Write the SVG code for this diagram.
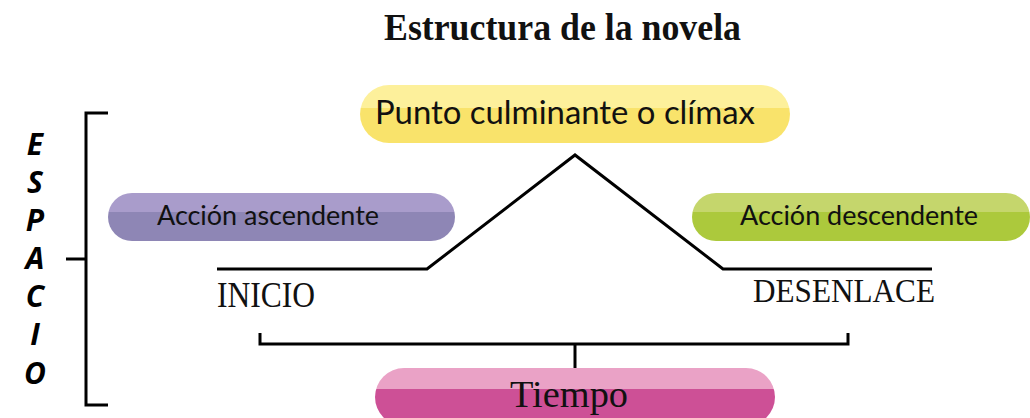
<svg xmlns="http://www.w3.org/2000/svg" width="1030" height="418" viewBox="0 0 1030 418">
  <defs>
    <linearGradient id="gYellow" x1="0" y1="0" x2="0" y2="1">
      <stop offset="0" stop-color="#FDF09B"/><stop offset="0.4" stop-color="#FDF09B"/>
      <stop offset="0.4" stop-color="#F9E36B"/><stop offset="1" stop-color="#F9E36B"/>
    </linearGradient>
    <linearGradient id="gPurple" x1="0" y1="0" x2="0" y2="1">
      <stop offset="0" stop-color="#A99CCB"/><stop offset="0.4" stop-color="#A99CCB"/>
      <stop offset="0.4" stop-color="#8E86B5"/><stop offset="1" stop-color="#8E86B5"/>
    </linearGradient>
    <linearGradient id="gGreen" x1="0" y1="0" x2="0" y2="1">
      <stop offset="0" stop-color="#C5D66C"/><stop offset="0.4" stop-color="#C5D66C"/>
      <stop offset="0.4" stop-color="#ACC93C"/><stop offset="1" stop-color="#ACC93C"/>
    </linearGradient>
    <linearGradient id="gPink" x1="0" y1="0" x2="0" y2="1">
      <stop offset="0" stop-color="#EAA2C6"/><stop offset="0.36" stop-color="#EAA2C6"/>
      <stop offset="0.36" stop-color="#CD5096"/><stop offset="1" stop-color="#CD5096"/>
    </linearGradient>
  </defs>
  <style>
    .line { fill: none; stroke: #000; stroke-width: 3; }
    .pilltext { font-family: Lato, "Open Sans", sans-serif; fill: #111; }
    .serif { font-family: "Liberation Serif", serif; fill: #111; }
    .vert { font-family: "Open Sans", "Liberation Sans", sans-serif; font-weight: bold; font-style: italic; font-size: 30px; fill: #000; text-anchor: middle; }
  </style>
  <rect width="1030" height="418" fill="#fff"/>

  <g id="title">
    <text class="serif" x="384" y="40" font-size="37" font-weight="bold" textLength="357" lengthAdjust="spacingAndGlyphs">Estructura de la novela</text>
  </g>

  <g id="connectors">
    <polyline class="line" points="217,269 427,269 575,155 723,269 932,269"/>
    <polyline class="line" points="108,113 86,113 86,405 108,405"/>
    <line class="line" x1="66" y1="259" x2="86" y2="259"/>
    <polyline class="line" points="260,333 260,344 848,344 848,333"/>
    <line class="line" x1="575" y1="344" x2="575" y2="368"/>
  </g>

  <g id="espacio">
    <text class="vert" x="35" y="155">E</text>
    <text class="vert" x="35" y="193">S</text>
    <text class="vert" x="35" y="231">P</text>
    <text class="vert" x="35" y="269">A</text>
    <text class="vert" x="35" y="307">C</text>
    <text class="vert" x="35" y="345">I</text>
    <text class="vert" x="35" y="384">O</text>
  </g>

  <g id="climax">
    <rect x="360" y="85" width="430" height="58" rx="29" fill="url(#gYellow)"/>
    <text class="pilltext" x="375" y="124" font-size="32" textLength="380" lengthAdjust="spacingAndGlyphs">Punto culminante o clímax</text>
  </g>

  <g id="ascendente">
    <rect x="108" y="193" width="347" height="48" rx="24" fill="url(#gPurple)"/>
    <text class="pilltext" x="157" y="225" font-size="26" textLength="222" lengthAdjust="spacingAndGlyphs">Acción ascendente</text>
  </g>

  <g id="descendente">
    <rect x="692" y="193" width="338" height="48" rx="24" fill="url(#gGreen)"/>
    <text class="pilltext" x="740" y="225" font-size="26" textLength="238" lengthAdjust="spacingAndGlyphs">Acción descendente</text>
  </g>

  <g id="inicio">
    <text class="serif" x="217" y="307" font-size="35" textLength="98" lengthAdjust="spacingAndGlyphs">INICIO</text>
  </g>

  <g id="desenlace">
    <text class="serif" x="753" y="302" font-size="33" textLength="182" lengthAdjust="spacingAndGlyphs">DESENLACE</text>
  </g>

  <g id="tiempo">
    <rect x="375" y="368" width="400" height="58" rx="29" fill="url(#gPink)"/>
    <text class="serif" x="510" y="407" font-size="38" textLength="118" lengthAdjust="spacingAndGlyphs">Tiempo</text>
  </g>
</svg>
